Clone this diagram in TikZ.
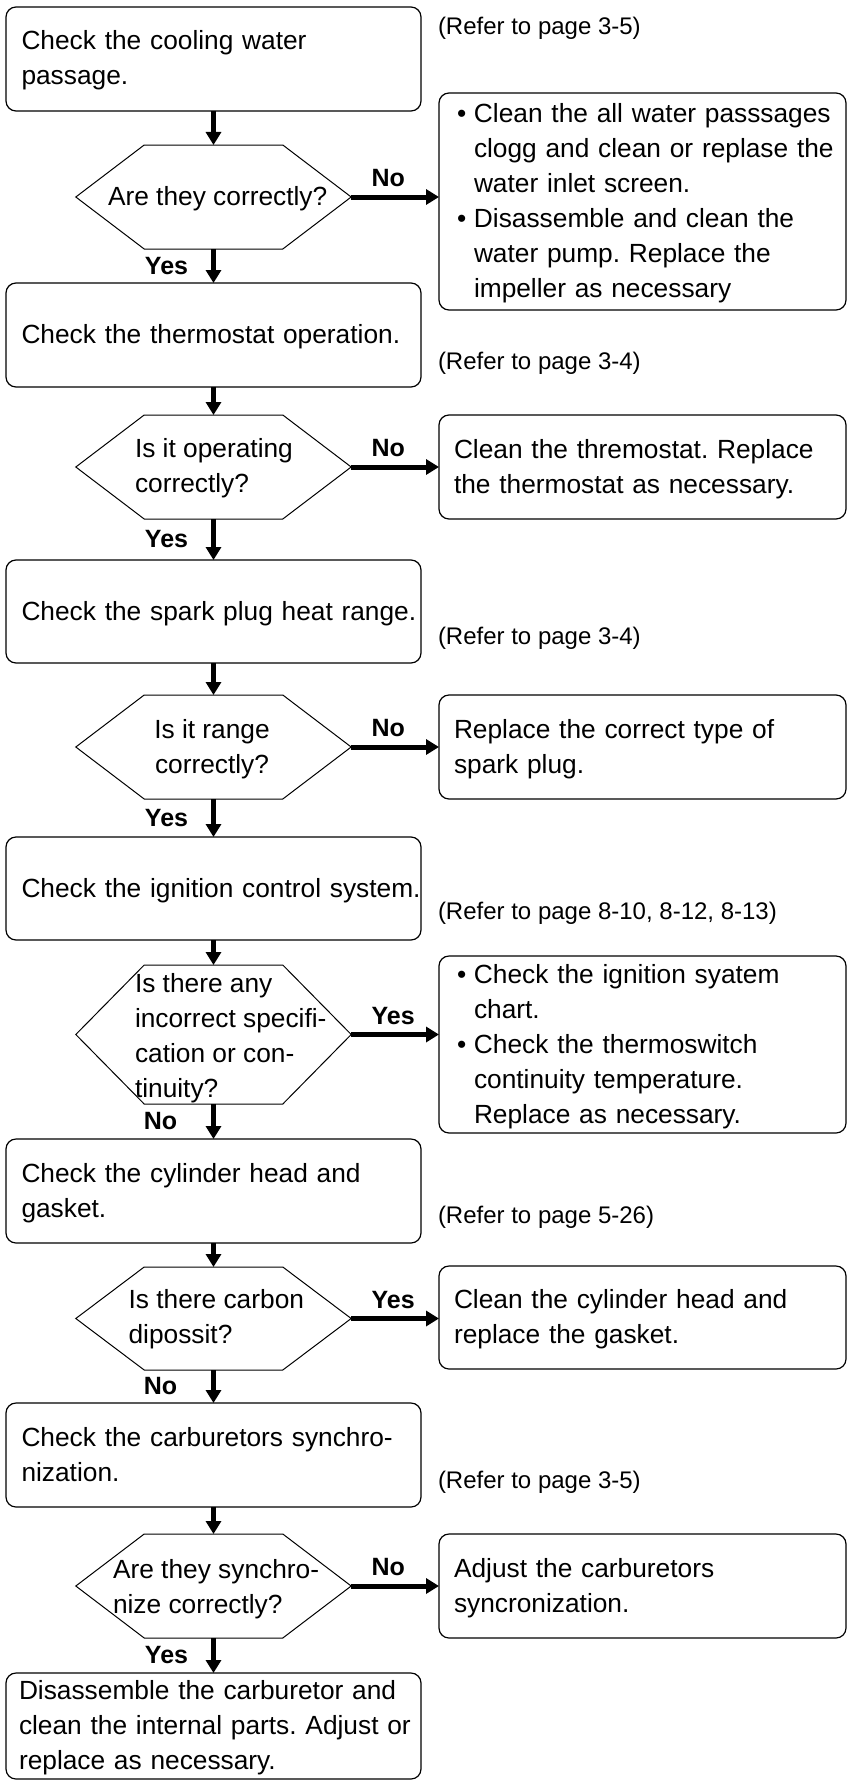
\documentclass[tikz,border=0pt]{standalone}
\usepackage{fontspec}
\setmainfont{Liberation Sans}
\usetikzlibrary{arrows.meta,calc}
\frenchspacing
\newcommand\mainf{\fontsize{26.3pt}{35pt}\selectfont\frenchspacing}
\newcommand\reff{\fontsize{24pt}{30pt}\selectfont}
\newcommand\lblf{\fontsize{25pt}{30pt}\selectfont\bfseries}
\newcommand\sx{\rule[-9pt]{0pt}{35pt}}
\newcommand\hexdraw[1]{\draw[hexline] (#1.west) -- ([xshift=68.4pt]#1.north west) -- ([xshift=-68.4pt]#1.north east) -- (#1.east) -- ([xshift=-68.4pt]#1.south east) -- ([xshift=68.4pt]#1.south west) -- cycle;}
\newcommand\bul{\makebox[20pt][l]{\hspace{3pt}•}}
\newcommand\ind{\hspace{20pt}}
\begin{document}
\begin{tikzpicture}[x=1pt,y=-1pt,
  every node/.style={inner sep=0pt, outer sep=0pt},
  box/.style={draw, line width=1.2pt, rounded corners=10pt, minimum width=415pt, inner xsep=15.5pt, text width=384pt, align=left, font=\mainf},
  rbox/.style={draw, line width=1.2pt, rounded corners=10pt, minimum width=407pt, inner xsep=15pt, text width=377pt, align=left, font=\mainf},
  hexnode/.style={minimum width=275.4pt},
  htext/.style={align=left, font=\mainf, anchor=west},
  refnote/.style={anchor=west, font=\reff},
  lbl/.style={font=\lblf},
  arr/.style={line width=5pt, -{Triangle[length=13pt,width=15pt]}},
  hexline/.style={line width=1pt, line join=miter}
]
\useasboundingbox (0,0) rectangle (847,1782);

% left boxes
\node[box, minimum height=104pt] (b1) at (213.5,59) {\sx\mbox{Check the cooling water}\\\mbox{passage.}\sx};
\node[box, minimum height=104pt] (b2) at (213.5,335) {\sx\mbox{Check the thermostat operation.}\sx};
\node[box, minimum height=103pt] (b3) at (213.5,611.5) {\sx\mbox{Check the spark plug heat range.}\sx};
\node[box, minimum height=103pt] (b4) at (213.5,888.5) {\sx\mbox{Check the ignition control system.}\sx};
\node[box, minimum height=104pt] (b5) at (213.5,1191) {\sx\mbox{Check the cylinder head and}\\\mbox{gasket.}\sx};
\node[box, minimum height=104pt] (b6) at (213.5,1455) {\sx\mbox{Check the carburetors synchro-}\\\mbox{nization.}\sx};
\node[box, minimum height=106pt, inner xsep=13pt, text width=389pt] (b7) at (213.5,1726) {\sx\mbox{Disassemble the carburetor and}\\\mbox{clean the internal parts. Adjust or}\\\mbox{replace as necessary.}\sx};

% hexagons
\node[hexnode, minimum height=104pt] (h1) at (213.5,197) {};
\node[hexnode, minimum height=104pt] (h2) at (213.5,467) {};
\node[hexnode, minimum height=104pt] (h3) at (213.5,747) {};
\node[hexnode, minimum height=139pt] (h4) at (213.5,1034.5) {};
\node[hexnode, minimum height=103pt] (h5) at (213.5,1318.5) {};
\node[hexnode, minimum height=104pt] (h6) at (213.5,1586) {};
\hexdraw{h1}\hexdraw{h2}\hexdraw{h3}\hexdraw{h4}\hexdraw{h5}\hexdraw{h6}

\node[htext] (h1t) at (108,197) {\sx Are they correctly?\sx};
\node[htext] (h2t) at (135,466) {\sx Is it operating\\correctly?\sx};
\node[htext, anchor=center, align=center] (h3t) at (212,747.5) {\sx Is it range\\correctly?\sx};
\node[htext] (h4t) at (135,1036) {\sx Is there any\\incorrect specifi-\\cation or con-\\tinuity?\sx};
\node[htext] (h5t) at (128.6,1317.5) {\sx Is there carbon\\dipossit?\sx};
\node[htext] (h6t) at (113,1587.5) {\sx Are they synchro-\\nize correctly?\sx};

% right boxes
\node[rbox, minimum height=217pt] (r1) at (642.5,201.5) {\sx\mbox{\bul Clean the all water passsages}\\\mbox{\ind clogg and clean or replase the}\\\mbox{\ind water inlet screen.}\\\mbox{\bul Disassemble and clean the}\\\mbox{\ind water pump. Replace the}\\\mbox{\ind impeller as necessary}\sx};
\node[rbox, minimum height=104pt] (r2) at (642.5,467) {\sx\mbox{Clean the thremostat. Replace}\\\mbox{the thermostat as necessary.}\sx};
\node[rbox, minimum height=104pt] (r3) at (642.5,747) {\sx\mbox{Replace the correct type of}\\\mbox{spark plug.}\sx};
\node[rbox, minimum height=177pt] (r4) at (642.5,1044.5) {\sx\mbox{\bul Check the ignition syatem}\\\mbox{\ind chart.}\\\mbox{\bul Check the thermoswitch}\\\mbox{\ind continuity temperature.}\\\mbox{\ind Replace as necessary.}\sx};
\node[rbox, minimum height=103pt] (r5) at (642.5,1317.5) {\sx\mbox{Clean the cylinder head and}\\\mbox{replace the gasket.}\sx};
\node[rbox, minimum height=104pt] (r6) at (642.5,1586) {\sx\mbox{Adjust the carburetors}\\\mbox{syncronization.}\sx};

% refer notes
\node[refnote] (n1) at (438,28) {(Refer to page 3-5)};
\node[refnote] (n2) at (438,363) {(Refer to page 3-4)};
\node[refnote] (n3) at (438,638) {(Refer to page 3-4)};
\node[refnote] (n4) at (438,913) {(Refer to page 8-10, 8-12, 8-13)};
\node[refnote] (n5) at (438,1217) {(Refer to page 5-26)};
\node[refnote] (n6) at (438,1482) {(Refer to page 3-5)};

% vertical arrows
\draw[arr] (b1.south) -- (h1.north);
\draw[arr] (h1.south) -- (b2.north);
\draw[arr] (b2.south) -- (h2.north);
\draw[arr] (h2.south) -- (b3.north);
\draw[arr] (b3.south) -- (h3.north);
\draw[arr] (h3.south) -- (b4.north);
\draw[arr] (b4.south) -- (h4.north);
\draw[arr] (h4.south) -- (b5.north);
\draw[arr] (b5.south) -- (h5.north);
\draw[arr] (h5.south) -- (b6.north);
\draw[arr] (b6.south) -- (h6.north);
\draw[arr] (h6.south) -- (b7.north);

% horizontal arrows
\draw[arr] (h1.east) -- (h1.east -| r1.west);
\draw[arr] (h2.east) -- (h2.east -| r2.west);
\draw[arr] (h3.east) -- (h3.east -| r3.west);
\draw[arr] (h4.east) -- (h4.east -| r4.west);
\draw[arr] (h5.east) -- (h5.east -| r5.west);
\draw[arr] (h6.east) -- (h6.east -| r6.west);

% labels on horizontal arrows
\node[lbl] (l1) at ($(h1.east)+(37,-18.5)$) {No};
\node[lbl] (l2) at ($(h2.east)+(37,-18.5)$) {No};
\node[lbl] (l3) at ($(h3.east)+(37,-18.5)$) {No};
\node[lbl] (l4) at ($(h4.east)+(42,-18.5)$) {Yes};
\node[lbl] (l5) at ($(h5.east)+(42,-18.5)$) {Yes};
\node[lbl] (l6) at ($(h6.east)+(37,-18.5)$) {No};

% labels on vertical arrows
\node[lbl] (v1) at ($(h1.south)!0.5!(b2.north)+(-47,0)$) {Yes};
\node[lbl] (v2) at ($(h2.south)!0.5!(b3.north)+(-47,0)$) {Yes};
\node[lbl] (v3) at ($(h3.south)!0.5!(b4.north)+(-47,0)$) {Yes};
\node[lbl] (v4) at ($(h4.south)!0.5!(b5.north)+(-53,0)$) {No};
\node[lbl] (v5) at ($(h5.south)!0.5!(b6.north)+(-53,0)$) {No};
\node[lbl] (v6) at ($(h6.south)!0.5!(b7.north)+(-47,0)$) {Yes};
\end{tikzpicture}
\end{document}
